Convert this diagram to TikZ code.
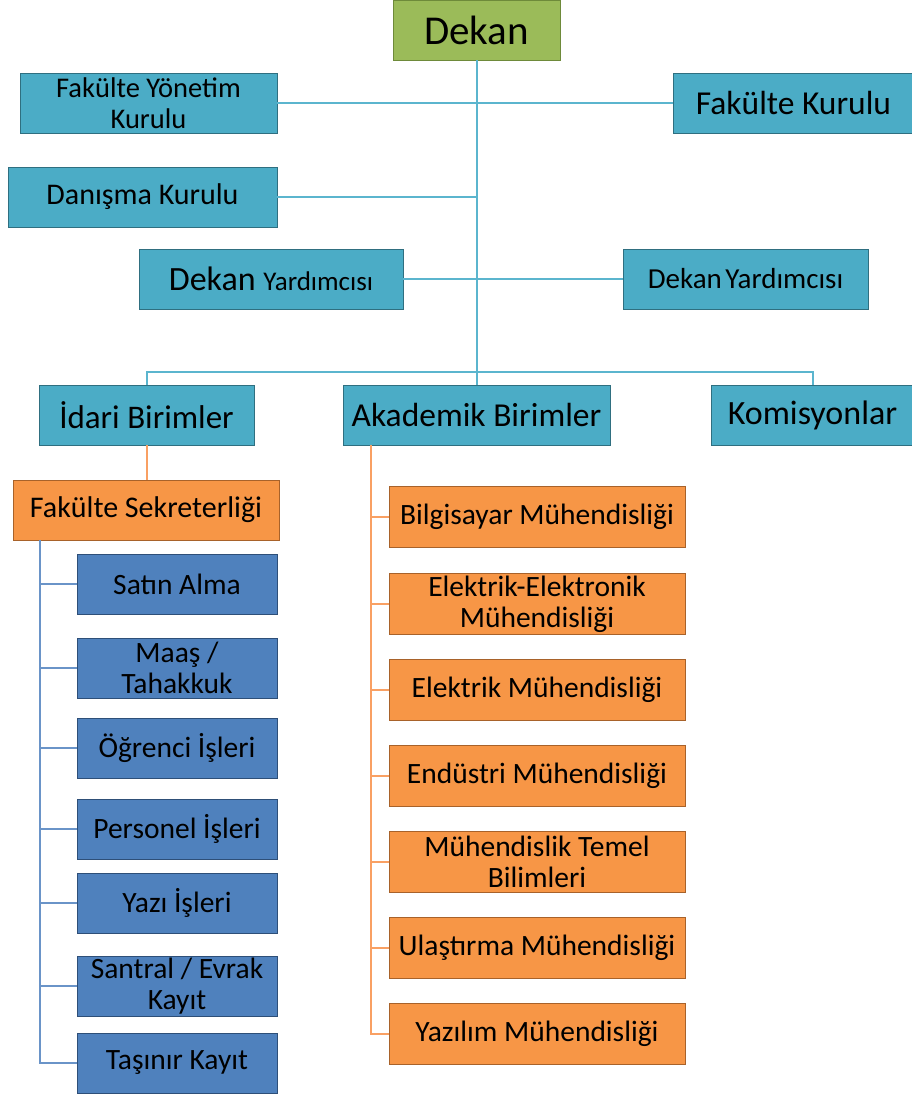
\documentclass[tikz,border=0pt]{standalone}
\usepackage{fontspec}
\setmainfont{Carlito}
\definecolor{teal}{HTML}{4BACC6}
\definecolor{tealb}{HTML}{2F6F80}
\definecolor{tealln}{HTML}{5BB5CE}
\definecolor{grn}{HTML}{9BBB59}
\definecolor{grnb}{HTML}{6E8A3A}
\definecolor{org}{HTML}{F79646}
\definecolor{orgb}{HTML}{A8622A}
\definecolor{orgln}{HTML}{F9A063}
\definecolor{blu}{HTML}{4F81BD}
\definecolor{blub}{HTML}{2E4F78}
\definecolor{bluln}{HTML}{6A94C8}
\newcommand{\fsz}[1]{\fontsize{#1}{31}\selectfont}
\tikzset{
  box/.style={draw, line width=0.8pt, inner sep=0pt, align=center, text=black},
  tbox/.style={box, fill=teal, draw=tealb, minimum height=60},
  gbox/.style={box, fill=grn, draw=grnb, minimum height=60},
  obox/.style={box, fill=org, draw=orgb, minimum height=61, minimum width=296, font=\fsz{29.5}},
  bbox/.style={box, fill=blu, draw=blub, minimum height=60, minimum width=200, font=\fsz{29.5}},
  tline/.style={draw=tealln, line width=2pt},
  oline/.style={draw=orgln, line width=2pt},
  bline/.style={draw=bluln, line width=2pt},
}
\begin{document}
\begin{tikzpicture}[x=1pt,y=-1pt]
\useasboundingbox (0,0) rectangle (912,1097);
\fill[white] (0,0) rectangle (912,1097);
% top nodes
\node[gbox, minimum width=167, font=\fsz{41}] (dekan) at (476.5,30) {Dekan};
\node[tbox, minimum width=257, font=\fsz{28.5}] (fyk) at (148.5,103) {Fakülte Yönetim\\Kurulu};
\node[tbox, minimum width=241, font=\fsz{33.5}] (fk) at (793.5,103) {Fakülte Kurulu};
\node[tbox, minimum width=269, font=\fsz{30}] (dk) at (142.5,197) {Danışma Kurulu};
\node[tbox, minimum width=264, font=\fsz{34}] (dy1) at (271,279) {Dekan \fsz{27}Yardımcısı};
\node[tbox, minimum width=245, font=\fsz{29}] (dy2) at (745.5,279) {Dekan\hspace{-3pt} Yardımcısı};
\node[tbox, minimum width=215, font=\fsz{33}] (ib) at (146.5,415) {İdari Birimler};
\node[tbox, minimum width=267, font=\fsz{33.5}] (ab) at (476.5,415) {Akademik Birimler};
\node[tbox, minimum width=203, font=\fsz{34}] (ko) at (812.5,415) {Komisyonlar};
\node[box, fill=org, draw=orgb, minimum width=266, minimum height=60, font=\fsz{30}] (fs) at (146,510) {Fakülte Sekreterliği};
% blue column
\node[bbox] (b1) at (177,584) {Satın Alma};
\node[bbox] (b2) at (177,668) {Maaş /\\Tahakkuk};
\node[bbox] (b3) at (177,748) {Öğrenci İşleri};
\node[bbox] (b4) at (177,829) {Personel İşleri};
\node[bbox] (b5) at (177,903) {Yazı İşleri};
\node[bbox] (b6) at (177,986) {Santral / Evrak\\Kayıt};
\node[bbox] (b7) at (177,1063) {Taşınır Kayıt};
% orange column
\node[obox] (o1) at (537,517) {Bilgisayar Mühendisliği};
\node[obox] (o2) at (537,604) {Elektrik-Elektronik\\Mühendisliği};
\node[obox] (o3) at (537,690) {Elektrik Mühendisliği};
\node[obox] (o4) at (537,776) {Endüstri Mühendisliği};
\node[obox] (o5) at (537,862) {Mühendislik Temel\\Bilimleri};
\node[obox] (o6) at (537,948) {Ulaştırma Mühendisliği};
\node[obox] (o7) at (537,1034) {Yazılım Mühendisliği};
% connectors
\coordinate (hub) at (476.5,372);
\coordinate (bl) at (40,540);
\coordinate (ol) at (371,445);
\draw[tline] (dekan.south) -- (hub);
\draw[tline] (fyk.east) -- (fk.west);
\draw[tline] (dk.east) -- (dk.east -| hub);
\draw[tline] (dy1.east) -- (dy2.west);
\draw[tline] (ib.north) |- (hub) -| (ko.north);
\draw[tline] (hub) -- (ab.north);
\draw[oline] (ib.south) -- (ib.south |- fs.north);
\draw[bline] (bl) |- (b7.west);
\foreach \n in {b1,b2,b3,b4,b5,b6} \draw[bline] (\n.west -| bl) -- (\n.west);
\draw[oline] (ol) |- (o7.west);
\foreach \n in {o1,o2,o3,o4,o5,o6} \draw[oline] (\n.west -| ol) -- (\n.west);
\end{tikzpicture}
\end{document}
